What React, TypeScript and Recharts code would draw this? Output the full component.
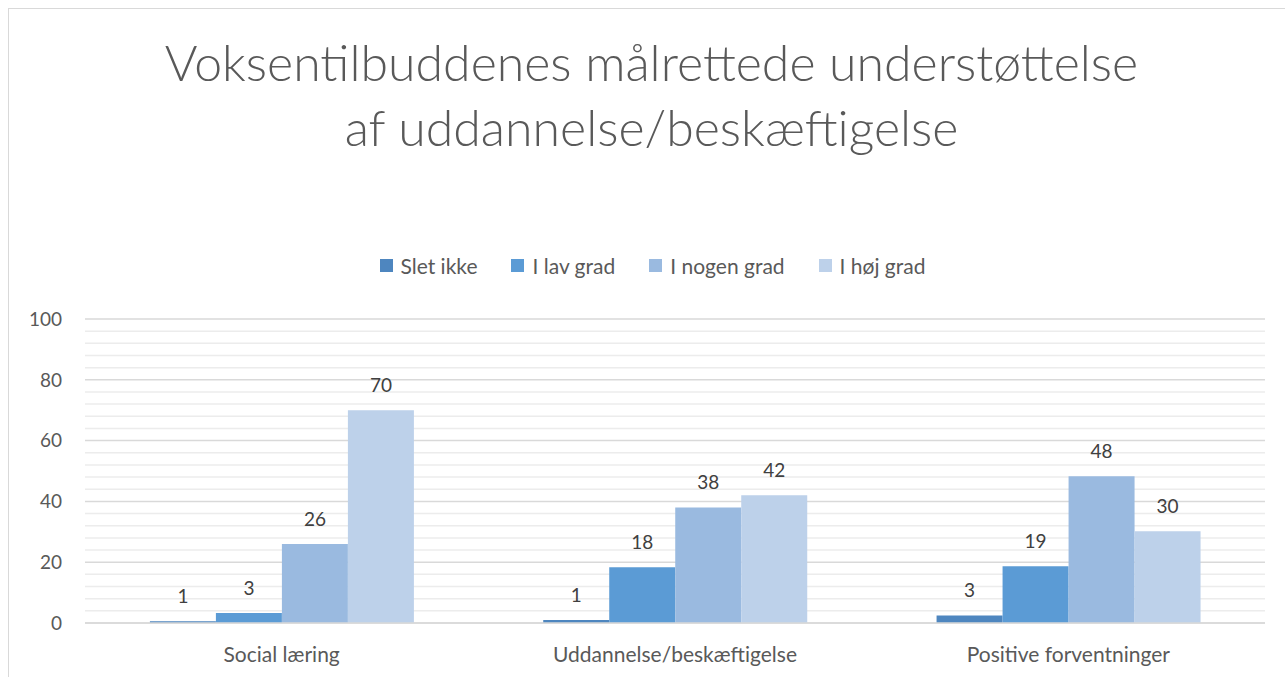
import { BarChart, Bar, XAxis, YAxis, CartesianGrid, LabelList } from "recharts";

const categories = ["Social læring", "Uddannelse/beskæftigelse", "Positive forventninger"];
const sletIkke = [0.6, 1.0, 2.5];
const iLavGrad = [3.3, 18.3, 18.7];
const iNogenGrad = [26, 38, 48.3];
const iHoejGrad = [70, 42, 30.2];
const yTicks = [0, 20, 40, 60, 80, 100];
const minorTicks = [4, 8, 12, 16, 24, 28, 32, 36, 44, 48, 52, 56, 64, 68, 72, 76, 84, 88, 92, 96];

const seriesNames = ["Slet ikke", "I lav grad", "I nogen grad", "I høj grad"];
const seriesColors = ["#4E86BF", "#5B9BD5", "#9ABAE0", "#BDD1EA"];

const data = categories.map((name, i) => ({
  name,
  s0: sletIkke[i],
  s1: iLavGrad[i],
  s2: iNogenGrad[i],
  s3: iHoejGrad[i],
}));

const FONT = "Lato, 'Open Sans', sans-serif";
const TEXT = "#595959";
const Y_MAX = yTicks[yTicks.length - 1];

// legend drawn as plain html so it doesn't push the plot down
function LegendBox() {
  return (
    <div
      style={{
        position: "absolute",
        left: 0,
        width: 1305,
        top: 253,
        display: "flex",
        justifyContent: "center",
        fontFamily: FONT,
        fontSize: 21,
        color: TEXT,
      }}
    >
      {seriesNames.map((n, i) => (
        <div key={n} style={{ display: "flex", alignItems: "center", marginRight: i < 3 ? 34 : 0 }}>
          <span style={{ width: 13, height: 13, background: seriesColors[i], marginRight: 8, display: "inline-block" }} />
          <span>{n}</span>
        </div>
      ))}
    </div>
  );
}

// minor grid lines: map values to pixels using the plot offset
const minorLines = ({ offset }: any) => {
  if (!offset) return [];
  return minorTicks.map((v) => offset.top + offset.height * (1 - v / Y_MAX));
};

export default function App() {
  return (
    <div style={{ position: "fixed", left: 0, top: 0, width: 1285, height: 677, overflow: "hidden", background: "#fff" }}>
      <div
        style={{
          position: "absolute",
          left: 8,
          top: 8,
          width: 1300,
          height: 700,
          borderTop: "1px solid #d9d9d9",
          borderLeft: "1px solid #d9d9d9",
        }}
      />
      <div
        style={{
          position: "absolute",
          left: 0,
          width: 1303,
          top: 30,
          textAlign: "center",
          fontFamily: FONT,
          fontWeight: 300,
          fontSize: 50,
          lineHeight: "65px",
          color: TEXT,
        }}
      >
        <div>Voksentilbuddenes målrettede understøttelse</div>
        <div>af uddannelse/beskæftigelse</div>
      </div>
      <LegendBox />
      <div style={{ position: "absolute", left: 0, top: 0 }}>
        <BarChart
          width={1285}
          height={677}
          data={data}
          margin={{ top: 319, right: 20, bottom: 0, left: 8 }}
          barCategoryGap="16.5%"
          barGap={0}
        >
          <CartesianGrid
            vertical={false}
            horizontalCoordinatesGenerator={minorLines}
            stroke="#ececec"
            strokeWidth={1.5}
          />
          <CartesianGrid vertical={false} stroke="#d9d9d9" strokeWidth={1.5} />
          <XAxis
            dataKey="name"
            axisLine={{ stroke: "#d9d9d9", strokeWidth: 1.5 }}
            tickLine={false}
            tickSize={0}
            tickMargin={24}
            height={54}
            tick={{ fill: TEXT, fontSize: 21, fontFamily: FONT }}
          />
          <YAxis
            domain={[0, 100]}
            ticks={yTicks}
            axisLine={false}
            tickLine={false}
            tickSize={0}
            tickMargin={23}
            width={77}
            tick={{ fill: TEXT, fontSize: 19, fontFamily: FONT }}
          />
          {["s0", "s1", "s2", "s3"].map((k, i) => (
            <Bar key={k} dataKey={k} name={seriesNames[i]} fill={seriesColors[i]} isAnimationActive={false}>
              <LabelList
                dataKey={k}
                position="top"
                offset={18}
                fill="#404040"
                fontSize={19}
                fontFamily={FONT}
                formatter={(v: any) => Math.round(Number(v))}
              />
            </Bar>
          ))}
        </BarChart>
      </div>
    </div>
  );
}
